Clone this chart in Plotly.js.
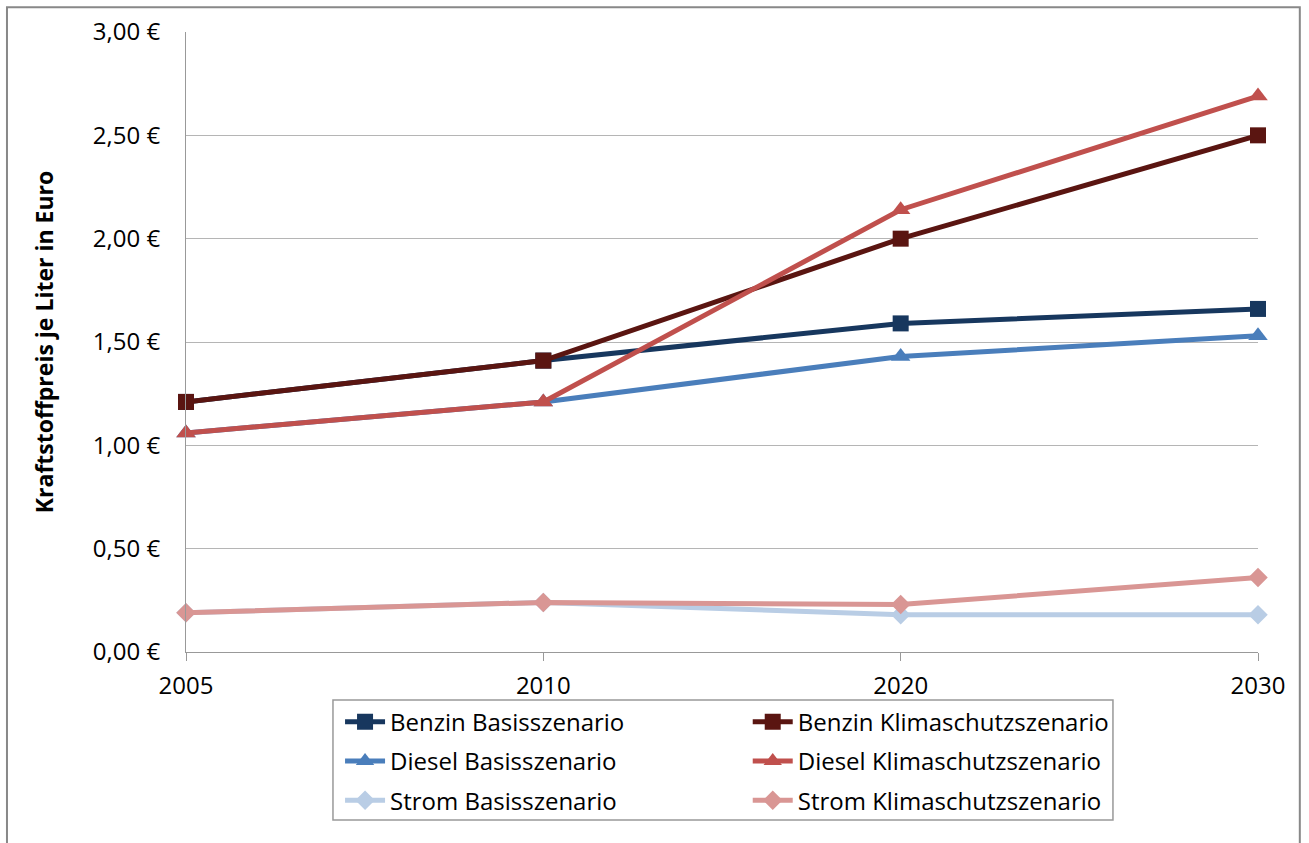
<!DOCTYPE html>
<html>
<head>
<meta charset="utf-8">
<script src="https://cdn.plot.ly/plotly-3.0.1.min.js"></script>
<style>
html,body{margin:0;padding:0;background:#fff;}
#chart{width:1309px;height:843px;}
</style>
</head>
<body>
<div id="chart"></div>
<script>
const years = ['2005', '2010', '2020', '2030'];
const benzinBasis = [1.21, 1.41, 1.59, 1.66];
const benzinKlima = [1.21, 1.41, 2.00, 2.50];
const dieselBasis = [1.06, 1.21, 1.43, 1.53];
const dieselKlima = [1.06, 1.21, 2.14, 2.69];
const stromBasis = [0.19, 0.24, 0.18, 0.18];
const stromKlima = [0.19, 0.24, 0.23, 0.36];
const yTickVals = [0, 0.5, 1, 1.5, 2, 2.5, 3];
const yTickText = ['0,00 €', '0,50 €', '1,00 €', '1,50 €', '2,00 €', '2,50 €', '3,00 €'];

const xIdx = years.map((_, i) => i);

function tr(name, y, color, symbol, size, legend, rank) {
  return {
    type: 'scatter', mode: 'lines+markers', name: name,
    x: xIdx, y: y,
    line: {color: color, width: 5},
    marker: {color: color, symbol: symbol, size: size},
    cliponaxis: false,
    legend: legend, legendgroup: name, legendrank: rank
  };
}

const data = [
  tr('Benzin Basisszenario', benzinBasis, '#17375E', 'square', 16, 'legend', 1),
  tr('Benzin Klimaschutzszenario', benzinKlima, '#5A1511', 'square', 16, 'legend2', 1),
  tr('Diesel Basisszenario', dieselBasis, '#4A7EBB', 'triangle-up', 17, 'legend', 2),
  tr('Diesel Klimaschutzszenario', dieselKlima, '#C0504D', 'triangle-up', 17, 'legend2', 2),
  tr('Strom Basisszenario', stromBasis, '#B9CDE5', 'diamond', 15, 'legend', 3),
  tr('Strom Klimaschutzszenario', stromKlima, '#D99694', 'diamond', 15, 'legend2', 3)
];

const font = "Open Sans, Noto Sans, sans-serif";
const legFont = {family: font, size: 24, color: '#000'};

const layout = {
  width: 1309, height: 843,
  margin: {l: 186, r: 51, t: 32, b: 191},
  paper_bgcolor: '#fff', plot_bgcolor: '#fff',
  font: {family: font, size: 24, color: '#000'},
  showlegend: true,
  xaxis: {
    range: [0, 3], tickvals: xIdx, ticktext: years,
    showgrid: false, zeroline: false,
    showline: true, linecolor: '#999', linewidth: 1,
    ticks: 'outside', ticklen: 8, tickcolor: '#999',
    ticklabelstandoff: 4,
    tickfont: {family: font, size: 24}
  },
  yaxis: {
    range: [0, 3], tickvals: yTickVals, ticktext: yTickText,
    showgrid: true, gridcolor: '#b5b5b5', gridwidth: 1,
    zeroline: false, showline: true, linecolor: '#999', linewidth: 1,
    ticks: '', ticklabelstandoff: 20,
    tickfont: {family: font, size: 24},
    title: {text: '<b>Kraftstoffpreis je Liter in Euro</b>', font: {family: font, size: 23}, standoff: 32}
  },
  legend: {
    orientation: 'v', x: 0.1437, xanchor: 'left', y: -0.077, yanchor: 'top',
    borderwidth: 0, bgcolor: 'rgba(0,0,0,0)', itemwidth: 40,
    tracegroupgap: 5, traceorder: 'grouped', font: legFont
  },
  legend2: {
    orientation: 'v', x: 0.524, xanchor: 'left', y: -0.077, yanchor: 'top',
    borderwidth: 0, bgcolor: 'rgba(0,0,0,0)', itemwidth: 40,
    tracegroupgap: 5, traceorder: 'grouped', font: legFont
  },
  shapes: [
    {
      type: 'rect', xref: 'paper', yref: 'paper',
      x0: -0.167, x1: 1.039, y0: -0.4, y1: 1.040,
      line: {color: '#888', width: 2}, fillcolor: 'rgba(0,0,0,0)', layer: 'below'
    },
    {
      type: 'rect', xref: 'paper', yref: 'paper',
      x0: 0.1371, x1: 0.8647, y0: -0.271, y1: -0.0774,
      line: {color: '#999', width: 1.5}, fillcolor: 'rgba(0,0,0,0)', layer: 'below'
    }
  ]
};

Plotly.newPlot('chart', data, layout, {displayModeBar: false, staticPlot: true});
</script>
</body>
</html>
